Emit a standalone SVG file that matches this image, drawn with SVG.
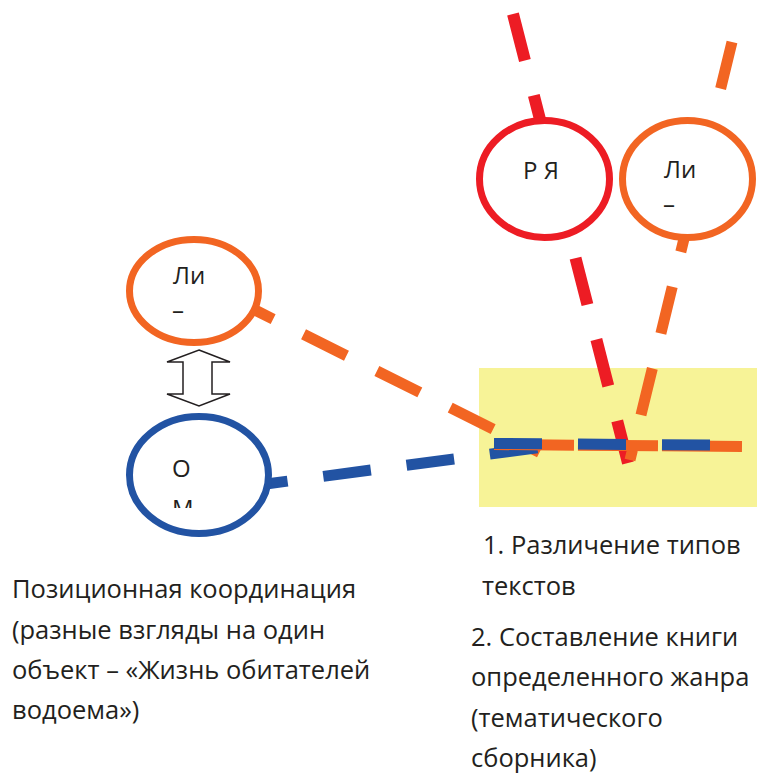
<svg xmlns="http://www.w3.org/2000/svg" width="757" height="774" viewBox="0 0 757 774">
<style>
text{font-family:"Open Sans","Noto Sans","DejaVu Sans",sans-serif;font-size:24px;fill:#231F20}
.cap text{font-size:25.5px}
.node{fill:#fff;stroke-width:7}
.ln{fill:none;stroke-linecap:butt}
</style>
<defs>
<clipPath id="omClip"><rect x="120" y="400" width="160" height="108"/></clipPath>
</defs>
<rect x="0" y="0" width="757" height="774" fill="#fff"/>
<rect id="focus" x="479" y="368" width="278" height="139" fill="#F7F397"/>
<g id="connectors">
<line class="ln" x1="230.2" y1="297.6" x2="539.5" y2="452.3" stroke="#F26522" stroke-width="11" stroke-dasharray="48 34"/>
<line class="ln" x1="240" y1="487.5" x2="537.5" y2="447.8" stroke="#2253A3" stroke-width="11" stroke-dasharray="48 36"/>
<line class="ln" x1="513" y1="14" x2="628" y2="463" stroke="#ED1C24" stroke-width="12" stroke-dasharray="48 36"/>
<line class="ln" x1="732" y1="42" x2="630" y2="460" stroke="#F26522" stroke-width="11" stroke-dasharray="48 36"/>
<line class="ln" x1="494" y1="444.5" x2="742" y2="446.5" stroke="#F26522" stroke-width="11" stroke-dasharray="80 4"/>
<line class="ln" x1="494" y1="443.5" x2="710" y2="445" stroke="#2253A3" stroke-width="11" stroke-dasharray="48 36"/>
<polygon id="double-arrow" points="199,350 230,362 212,362 212,394 230,394 199,406 167,394 183,394 183,362 167,362" fill="#fff" stroke="#231F20" stroke-width="1.5" stroke-linejoin="miter"/>
</g>
<g id="node-li-left">
<ellipse class="node" cx="194" cy="291" rx="64.5" ry="51.5" stroke="#F26522"/>
<text x="173" y="284">Ли</text>
<text x="172" y="319">–</text>
</g>
<g id="node-om">
<ellipse class="node" cx="199" cy="475" rx="69.5" ry="58.5" stroke="#2253A3"/>
<text x="172" y="477">О</text>
<text x="172" y="517" clip-path="url(#omClip)">М</text>
</g>
<g id="node-ry">
<ellipse class="node" cx="544.5" cy="179" rx="65" ry="58.5" stroke="#ED1C24"/>
<text x="523" y="179">Р Я</text>
</g>
<g id="node-li-right">
<ellipse class="node" cx="687.5" cy="179" rx="65" ry="58.5" stroke="#F26522"/>
<text x="664" y="178">Ли</text>
<text x="663" y="213">–</text>
</g>
<g id="caption-left" class="cap">
<text x="12" y="598">Позиционная координация</text>
<text x="12" y="639">(разные взгляды на один</text>
<text x="12" y="679">объект – «Жизнь обитателей</text>
<text x="12" y="719">водоема»)</text>
</g>
<g id="caption-right" class="cap">
<text x="483" y="554">1. Различение типов</text>
<text x="482" y="595">текстов</text>
<text x="471" y="646">2. Составление книги</text>
<text x="471" y="686">определенного жанра</text>
<text x="471" y="727">(тематического</text>
<text x="471" y="767">сборника)</text>
</g>
</svg>
